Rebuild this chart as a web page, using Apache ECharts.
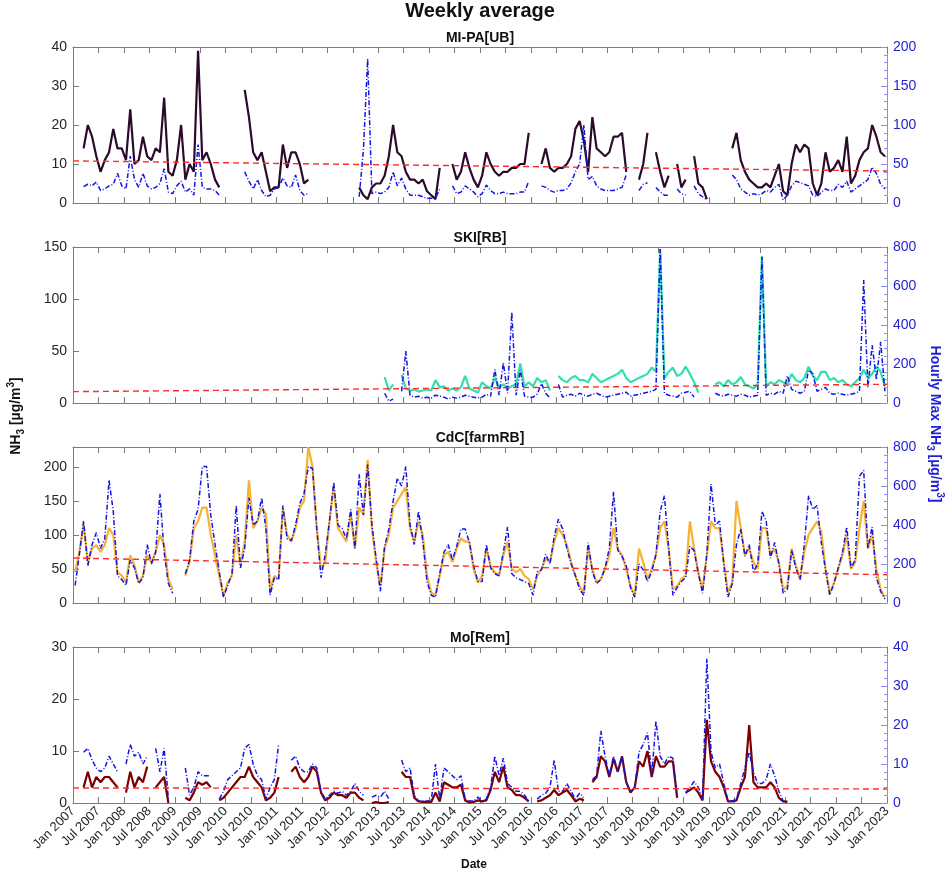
<!DOCTYPE html>
<html>
<head>
<meta charset="utf-8">
<title>Weekly average</title>
<script src="https://cdn.jsdelivr.net/npm/echarts/dist/echarts.min.js"></script>
<style>
html, body { margin: 0; padding: 0; background: #fff; }
#chart { width: 946px; height: 880px; }
</style>
</head>
<body>
<div id="chart"></div>
<script>
// monthly values, Jan 2007 .. Dec 2022 (one row per year)
var startYear = 2007;
var endYear = 2023;
var siteNames = ['MI-PA[UB]', 'SKI[RB]', 'CdC[farmRB]', 'Mo[Rem]'];

// MI-PA, left axis (ug/m3)
var miPa = [
  null,null,14,20,17,12,8,11,13,19,14,14,
  11,24,10,11,17,12,11,14,13,27,8,7,
  11,20,6,10,8,39,11,13,10,6,4,null,
  null,null,null,null,29,22,13,11,13,8,3,4,
  4,15,9,13,13,10,5,6,null,null,null,null,
  null,null,null,null,null,null,null,4,2,1,4,5,
  5,7,12,20,13,12,8,6,6,5,6,3,
  2,1,9,null,null,10,6,8,13,9,6,4,
  7,13,10,8,7,8,8,9,9,10,10,18,
  null,null,10,14,9,8,9,9,10,12,19,21,
  16,8,22,14,13,12,13,17,17,18,8,null,
  null,6,10,18,null,13,8,4,7,null,10,4,
  6,null,12,5,4,1,null,null,null,null,null,14,
  18,11,8,6,5,4,4,5,4,7,10,3,
  2,10,15,13,15,14,5,2,5,13,8,9,
  11,8,17,5,7,11,13,14,20,17,13,12
];
// MI-PA hourly max, right axis
var miPaMax = [
  null,null,21,24,22,27,16,18,22,24,38,22,
  18,60,30,20,38,22,18,20,25,44,14,12,
  22,28,14,18,10,75,20,18,18,16,10,null,
  null,null,null,null,40,28,18,30,16,8,10,18,
  20,32,22,20,36,16,10,12,null,null,null,null,
  null,null,null,null,null,null,null,8,68,185,12,14,
  12,14,20,40,22,32,18,10,10,10,8,6,
  6,6,18,null,null,22,12,14,22,18,14,8,
  12,23,16,12,12,14,12,12,12,14,14,28,
  null,null,22,20,16,14,16,16,18,26,40,50,
  100,30,34,22,18,16,16,16,18,20,36,null,
  null,16,24,26,null,20,14,10,10,null,18,12,
  10,null,22,12,8,4,null,null,null,null,null,36,
  30,18,14,10,12,10,12,16,14,20,24,4,
  10,22,28,26,24,22,10,8,14,18,16,16,
  24,20,28,14,18,22,26,30,46,38,24,18
];

// SKI
var ski = [
  null,null,null,null,null,null,null,null,null,null,null,null,
  null,null,null,null,null,null,null,null,null,null,null,null,
  null,null,null,null,null,null,null,null,null,null,null,null,
  null,null,null,null,null,null,null,null,null,null,null,null,
  null,null,null,null,null,null,null,null,null,null,null,null,
  null,null,null,null,null,null,null,null,null,null,null,null,
  null,25,12,18,null,27,14,12,13,11,12,13,
  12,22,15,16,12,14,12,15,26,14,12,10,
  20,16,14,24,15,18,14,16,18,38,16,20,
  16,24,20,22,12,null,26,22,20,24,26,22,
  22,20,28,24,20,22,24,26,28,32,24,20,
  22,24,26,28,34,30,148,24,30,34,26,28,
  35,28,20,10,null,null,null,18,20,16,22,18,
  20,25,18,16,14,18,141,16,20,18,22,20,
  18,28,22,20,24,35,26,22,30,30,22,24,
  20,22,18,16,20,24,32,24,28,35,30,16
];
var skiMax = [
  null,null,null,null,null,null,null,null,null,null,null,null,
  null,null,null,null,null,null,null,null,null,null,null,null,
  null,null,null,null,null,null,null,null,null,null,null,null,
  null,null,null,null,null,null,null,null,null,null,null,null,
  null,null,null,null,null,null,null,null,null,null,null,null,
  null,null,null,null,null,null,null,null,null,null,null,null,
  null,50,10,20,null,60,266,40,30,35,25,30,
  25,40,35,30,20,30,25,30,40,35,30,25,
  30,45,35,172,40,206,50,467,40,169,35,30,
  30,45,100,50,25,null,95,30,40,45,35,50,
  40,35,45,50,40,30,35,40,45,50,55,35,
  40,45,50,55,60,70,790,50,40,35,30,50,
  55,60,30,null,null,null,null,50,40,35,45,40,
  35,45,40,30,35,40,750,40,50,45,60,50,
  140,70,60,50,60,169,150,60,70,80,50,45,
  50,45,40,45,50,60,630,80,297,120,314,60
];

// CdC
var cdc = [
  45,75,115,60,80,85,75,85,110,100,45,40,
  30,70,55,30,40,70,60,75,100,85,35,20,
  null,null,40,60,110,120,140,140,100,70,40,10,
  30,40,100,55,90,180,110,120,140,130,20,40,
  35,140,100,90,110,140,150,229,200,110,50,60,
  120,170,110,100,90,130,80,140,130,210,110,60,
  25,80,100,140,150,160,170,110,90,120,100,40,
  15,12,40,70,75,60,80,95,90,90,50,30,
  40,80,55,45,40,70,90,50,45,50,40,35,
  20,40,50,65,60,90,110,100,85,60,40,25,
  15,80,50,30,35,50,70,110,80,70,50,25,
  10,80,60,35,50,70,110,120,80,20,25,35,
  40,120,80,45,20,70,120,110,110,60,15,30,
  150,110,70,80,60,50,110,110,70,80,60,20,
  25,80,55,35,75,100,110,120,105,50,15,30,
  50,70,100,50,60,110,150,80,100,50,20,8
];
var cdcMax = [
  90,250,420,190,300,360,280,330,630,470,140,120,
  90,220,180,100,130,300,200,260,560,260,100,50,
  null,null,150,220,420,480,700,700,450,300,160,30,
  90,150,500,180,280,540,400,420,540,380,40,130,
  120,500,330,320,400,510,560,700,690,380,130,250,
  420,620,400,380,330,480,280,660,450,710,400,230,
  60,290,380,520,640,600,700,400,300,470,320,110,
  40,30,150,260,300,220,290,380,380,310,190,110,
  110,300,180,150,140,260,390,150,130,120,110,100,
  40,160,170,250,200,340,430,380,280,200,140,70,
  40,310,160,100,120,180,280,570,270,240,190,80,
  30,200,170,110,160,250,470,550,280,40,80,110,
  130,290,270,150,50,250,610,400,420,200,30,100,
  300,380,240,300,160,200,470,420,230,310,200,50,
  70,270,180,120,300,550,480,500,310,170,40,100,
  180,260,390,180,220,650,680,280,390,130,60,20
];

// Mo
var mo = [
  null,null,3,6,3,5,4,5,5,4,3,null,
  2,6,3,5,4,7,null,3,4,5,0,null,
  null,null,1,0.5,2,4,3.5,4,3,null,0.5,1,
  2,3,4,5,5,7,5,4,3,0.5,1,2,
  5,null,null,6,7,5,4,5,7,6,2,0.5,
  1,2,1.5,1.5,1,2,2,1,0.5,null,0,0.2,
  0,0,0.2,null,null,6,5,5,1,0.3,0.2,0.2,
  0.2,2,0.3,4,3.5,3,3,3.5,0.5,0.1,0.2,0.5,
  0.3,0.5,2.5,6,4,7,3,2.5,1.5,1.5,1,0.3,
  null,0.3,0.5,1,1.5,2.5,1.5,2,2.5,1.5,0.3,0.8,
  0.5,null,4,5,9,8,5,8.5,6,9,4,2,
  3,8,7,10,5,9,7,7,8,8,1,null,
  2,2.5,3,2,0.5,16,8,6,5,3,0.3,0.3,
  0.5,3,5,15,4,3,3,3,4,3,1,0.3,
  0.2,null,null,null,null,null,null,null,null,null,null,null,
  null,null,null,null,null,null,null,null,null,null,null,null
];
var moMax = [
  null,null,13,14,11,9,8,9,12,10,8,null,
  10,15,12,13,10,12,null,14,8,14,1,null,
  null,null,9,2,4,8,7,7,7,null,1,3,
  6,7,8,9,14,15,10,7,6,1,4,6,
  15,null,null,11,12,9,8,8,10,9,3,1,
  2,3,2.5,3,2,3,5,3,2,null,1.5,2,
  1.5,3,1,null,null,11,8,9,2,0.5,0.5,0.5,
  0.5,10,1,9,8,7,6,7,1,0.5,0.5,1.5,
  0.5,1,4,12,7,11.5,5,4,3,3,2,0.5,
  null,1,2,2.5,4,11,3,3,5,3,1,2.5,
  1.5,null,6,7,18.5,12,7,12,8,12,5,3,
  4,13,15,18,7,21,12,10,12,11.5,2,null,
  2.5,4,5.5,4,1,37,13,9,10,5,0.5,0.5,
  1,5,9,13,8,5,5,6,10,7,3,0.5,
  0.5,null,null,null,null,null,null,null,null,null,null,null,
  null,null,null,null,null,null,null,null,null,null,null,null
];

// linear trend (left axis) at Jan 2007 and Jan 2023
var miPaTrend = [10.8, 8.2];
var skiTrend = [10.9, 18];
var cdcTrend = [66, 41.5];
var moTrend = [2.9, 2.7];

var leftMax = [40, 150, 229, 30];
var leftStep = [10, 50, 50, 10];
var rightMax = [200, 800, 800, 40];
var rightStep = [50, 200, 200, 10];

var chart = echarts.init(document.getElementById('chart'));

function toPts(vals) {
  return vals.map(function (v, i) { return [startYear + (i + 0.5) / 12, v]; });
}
function trendPts(t) {
  return [[startYear, t[0]], [endYear, t[1]]];
}

var lineColors = ['#2b0a2b', '#2fe0b0', '#f7b232', '#7d0000'];
var mainData = [miPa, ski, cdc, mo];
var maxData = [miPaMax, skiMax, cdcMax, moMax];
var trends = [miPaTrend, skiTrend, cdcTrend, moTrend];
var tops = [47, 247, 447, 647];
var axisGray = '#7a7a7a';
var rightBlue = '#8a8aff';
var font = '"Liberation Sans", Arial, sans-serif';

var grids = [], xAxes = [], yAxes = [], series = [], graphics = [];

tops.forEach(function (top, i) {
  grids.push({ left: 73, right: 59, top: top, height: 156, outerBoundsMode: 'none' });
  var xBase = {
    gridIndex: i, type: 'value', min: startYear, max: endYear, interval: 0.5,
    axisLine: { show: true, onZero: false, lineStyle: { color: axisGray } },
    axisTick: { show: true, inside: true, length: 6, lineStyle: { color: axisGray } },
    splitLine: { show: false },
    axisLabel: { show: false }
  };
  var xb = Object.assign({}, xBase, { position: 'bottom' });
  if (i === 3) {
    xb.axisLabel = {
      show: true, rotate: 45, margin: 6, fontSize: 13, color: '#262626', fontFamily: font,
      hideOverlap: false, showMinLabel: true, showMaxLabel: true,
      formatter: function (v) {
        var y = Math.floor(v + 1e-6);
        return (v - y < 0.25 ? 'Jan ' : 'Jul ') + y;
      }
    };
  }
  xAxes.push(xb);
  xAxes.push(Object.assign({}, xBase, { position: 'top' }));

  yAxes.push({
    gridIndex: i, type: 'value', position: 'left', min: 0, max: leftMax[i], interval: leftStep[i],
    axisLine: { show: true, lineStyle: { color: axisGray } },
    axisTick: { show: true, inside: true, length: 6, lineStyle: { color: axisGray } },
    splitLine: { show: false },
    axisLabel: {
      fontSize: 14, color: '#262626', fontFamily: font, margin: 6,
      formatter: function (v) { return v % leftStep[i] === 0 ? String(v) : ''; }
    }
  });
  yAxes.push({
    gridIndex: i, type: 'value', position: 'right', min: 0, max: rightMax[i], interval: rightStep[i],
    axisLine: { show: true, lineStyle: { color: rightBlue } },
    axisTick: { show: true, inside: true, length: 6, lineStyle: { color: rightBlue } },
    minorTick: { show: true, splitNumber: 5, length: 3, lineStyle: { color: rightBlue } },
    splitLine: { show: false },
    axisLabel: { fontSize: 14, color: '#2323d2', fontFamily: font, margin: 6 }
  });

  series.push({
    type: 'line', xAxisIndex: 2 * i, yAxisIndex: 2 * i, data: toPts(mainData[i]),
    showSymbol: false, symbol: 'none', connectNulls: false,
    lineStyle: { color: lineColors[i], width: 2.2 }
  });
  series.push({
    type: 'line', xAxisIndex: 2 * i, yAxisIndex: 2 * i + 1, data: toPts(maxData[i]),
    showSymbol: false, symbol: 'none', connectNulls: false,
    lineStyle: { color: '#1414e6', width: 1.5, type: [5, 2, 1, 2] }
  });
  series.push({
    type: 'line', xAxisIndex: 2 * i, yAxisIndex: 2 * i, data: trendPts(trends[i]),
    showSymbol: false, symbol: 'none',
    lineStyle: { color: '#ff2a2a', width: 1.4, type: [6, 4] }
  });

  graphics.push({
    type: 'text', x: 480, y: top - 9,
    style: { text: siteNames[i], font: 'bold 14px ' + font, fill: '#111', align: 'center', verticalAlign: 'middle' }
  });
});

graphics.push({
  type: 'text', x: 480, y: 11,
  style: { text: 'Weekly average', font: 'bold 20px ' + font, fill: '#111', align: 'center', verticalAlign: 'middle' }
});
graphics.push({
  type: 'text', x: 474, y: 865,
  style: { text: 'Date', font: 'bold 12px ' + font, fill: '#111', align: 'center', verticalAlign: 'middle' }
});
var richBase = {
  b: { fontSize: 14, fontWeight: 'bold', fontFamily: font, lineHeight: 20 },
  s: { fontSize: 10, fontWeight: 'bold', fontFamily: font, lineHeight: 11, verticalAlign: 'bottom' },
  p: { fontSize: 10, fontWeight: 'bold', fontFamily: font, lineHeight: 11, verticalAlign: 'top' }
};
graphics.push({
  type: 'text', x: 16, y: 416, rotation: Math.PI / 2,
  style: {
    text: '{b|NH}{s|3}{b| [µg/m}{p|3}{b|]}', fill: '#111', align: 'center', verticalAlign: 'middle',
    rich: richBase
  }
});
graphics.push({
  type: 'text', x: 935, y: 424, rotation: -Math.PI / 2,
  style: {
    text: '{b|Hourly Max NH}{s|3}{b| [µg/m}{p|3}{b|]}', fill: '#1f1fd6', align: 'center', verticalAlign: 'middle',
    rich: richBase
  }
});

var option = {
  backgroundColor: '#fff',
  animation: false,
  grid: grids,
  xAxis: xAxes,
  yAxis: yAxes,
  series: series,
  graphic: graphics
};
chart.setOption(option);
</script>
</body>
</html>
